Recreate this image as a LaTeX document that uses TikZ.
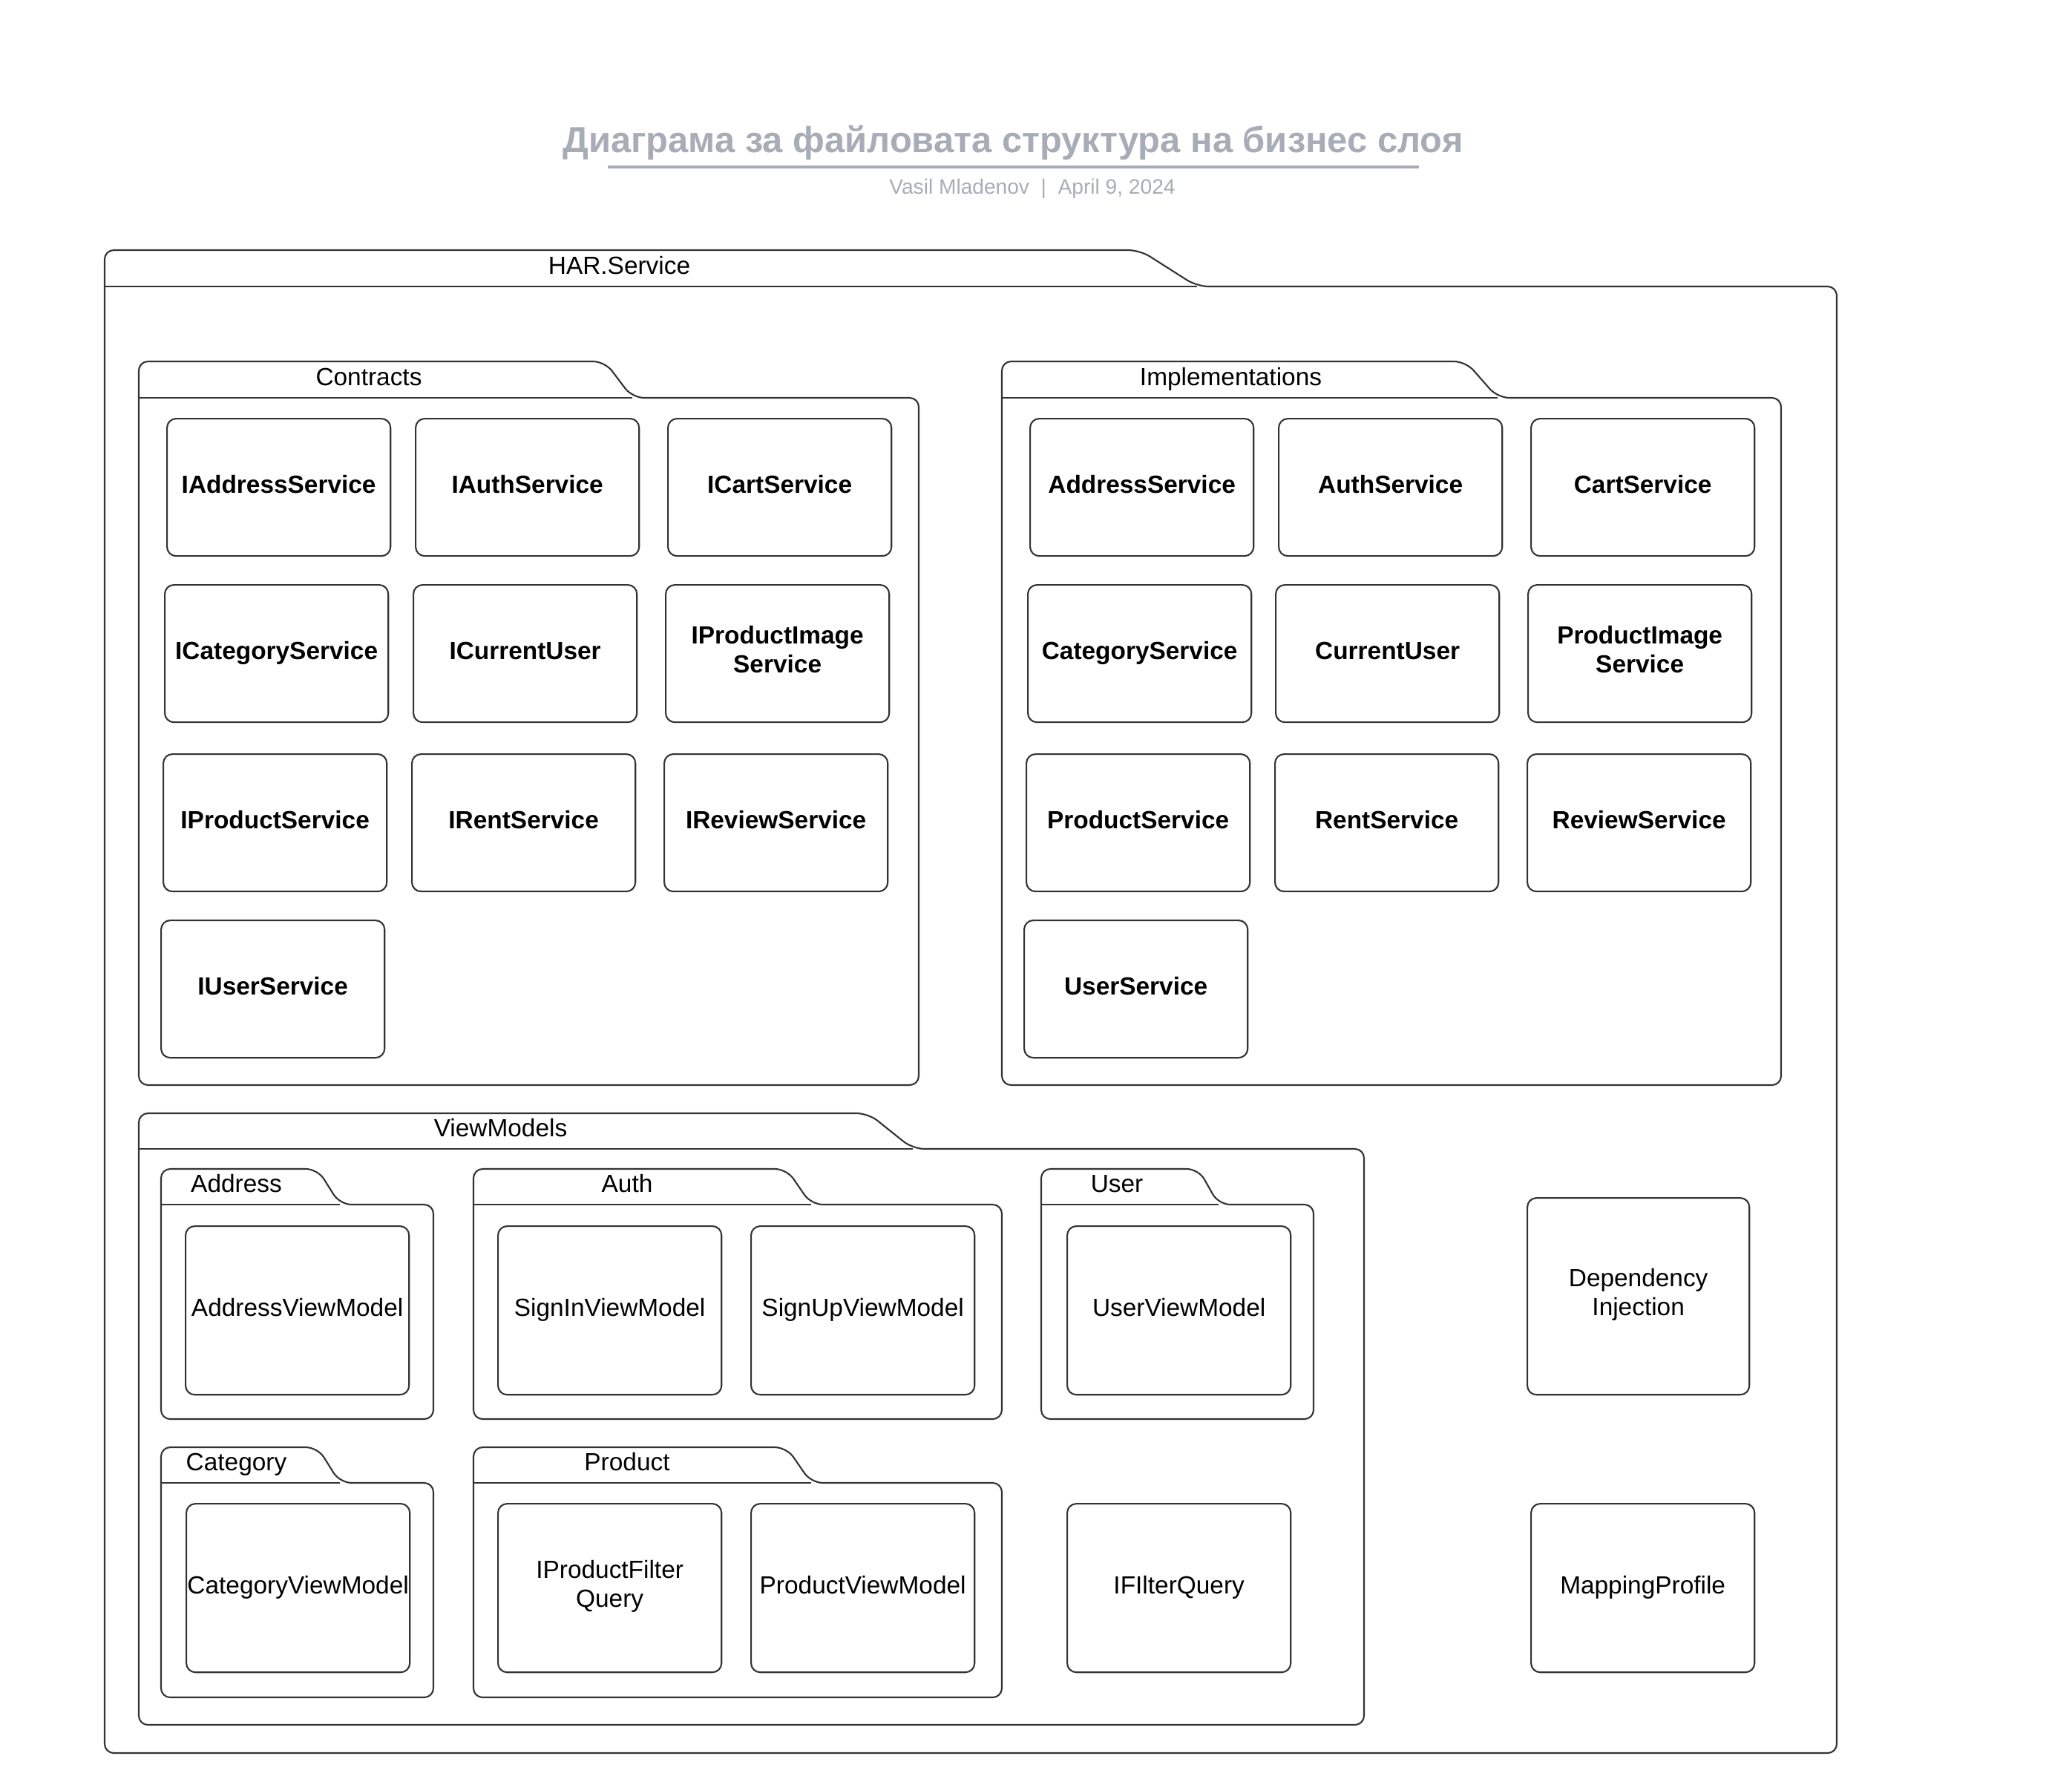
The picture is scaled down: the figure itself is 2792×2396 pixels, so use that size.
\documentclass[tikz,border=0pt]{standalone}
\usepackage{fontspec}
\setmainfont{Liberation Sans}

\definecolor{titlegray}{RGB}{168,172,182}
\definecolor{linegray}{RGB}{51,51,51}

% package (folder) shape: name, label, left, right, tab top, body top, bottom, tab end, tab foot
\newcommand{\umlpkg}[9]{%
  \draw[pkgline] (#3,#6) [rounded corners=3.5pt] -- (#3,#5) [rounded corners=4.5pt] -- (#8,#5) -- (#9,#6) [rounded corners=3.5pt] -- (#4,#6) -- (#4,#7) -- (#3,#7) -- cycle;
  \draw[pkgline] (#3,#6) -- (#9,#6);
  \node[pkglabel] (#1) at ({(#3+#8)/2-4},{(#5+#6)/2}) {#2};
}

\tikzset{
  pkgline/.style={draw=linegray, line width=0.6pt},
  pkglabel/.style={font=\fontsize{9.5}{11.1}\selectfont, inner sep=0pt,
    execute at begin node=\strut},
  svcbox/.style={draw=linegray, line width=0.6pt, rounded corners=3.5pt, anchor=north west,
    minimum width=3.01cm, minimum height=1.85cm, inner sep=0pt, align=center,
    font=\fontsize{9.5}{11.1}\selectfont\bfseries,
    execute at begin node=\strut, execute at end node=\strut},
  vmbox/.style={svcbox, minimum height=2.27cm, font=\fontsize{9.5}{11.1}\selectfont},
  titletext/.style={text=titlegray, font=\fontsize{13.9}{16}\selectfont\bfseries, inner sep=0pt},
  subtitletext/.style={text=titlegray, font=\fontsize{8}{10}\selectfont, inner sep=0pt},
  titleline/.style={draw=titlegray, line width=1.15pt}
}

\begin{document}
\begin{tikzpicture}[x=0.01cm, y=-0.01cm]
    \useasboundingbox (0,0) rectangle (2792,2396);

    % Title
    \node[titletext, anchor=base] (title) at (1365,205) {Диаграма за файловата структура на бизнес слоя};
    \draw[titleline] (819,224.7) -- (1912,224.7);
    \node[subtitletext, anchor=base] (subtitle) at (1391,261.7) {Vasil Mladenov~~|~~April 9, 2024};

    % Packages
    \umlpkg{harservice}{HAR.Service}{141}{2475}{337}{386}{2362}{1536}{1613}
    \umlpkg{contracts}{Contracts}{187}{1238}{487}{536}{1462}{815}{852}
    \umlpkg{implementations}{Implementations}{1350}{2400}{487}{536}{1462}{1975}{2018}
    \umlpkg{viewmodels}{ViewModels}{187}{1838}{1500}{1548}{2324}{1170}{1230}
    \umlpkg{addresspkg}{Address}{217}{584}{1575}{1623}{1912}{428}{458}
    \umlpkg{authpkg}{Auth}{638}{1350}{1575}{1623}{1912}{1060}{1093}
    \umlpkg{userpkg}{User}{1403}{1770}{1575}{1623}{1912}{1615}{1642}
    \umlpkg{categorypkg}{Category}{217}{584}{1950}{1998}{2287}{428}{458}
    \umlpkg{productpkg}{Product}{638}{1350}{1950}{1998}{2287}{1060}{1093}

    % Contracts
    \node[svcbox] (iaddress) at (224,563) {IAddressService};
    \node[svcbox] (iauth) at (559,563) {IAuthService};
    \node[svcbox] (icart) at (899,563) {ICartService};
    \node[svcbox] (icategory) at (221,787) {ICategoryService};
    \node[svcbox] (icurrentuser) at (556,787) {ICurrentUser};
    \node[svcbox] (iproductimage) at (896,787) {IProductImage\\Service};
    \node[svcbox] (iproduct) at (219,1015) {IProductService};
    \node[svcbox] (irent) at (554,1015) {IRentService};
    \node[svcbox] (ireview) at (894,1015) {IReviewService};
    \node[svcbox] (iuser) at (216,1239) {IUserService};

    % Implementations
    \node[svcbox] (address) at (1387,563) {AddressService};
    \node[svcbox] (auth) at (1722,563) {AuthService};
    \node[svcbox] (cart) at (2062,563) {CartService};
    \node[svcbox] (category) at (1384,787) {CategoryService};
    \node[svcbox] (currentuser) at (1718,787) {CurrentUser};
    \node[svcbox] (productimage) at (2058,787) {ProductImage\\Service};
    \node[svcbox] (product) at (1382,1015) {ProductService};
    \node[svcbox] (rent) at (1717,1015) {RentService};
    \node[svcbox] (review) at (2057,1015) {ReviewService};
    \node[svcbox] (user) at (1379,1239) {UserService};

    % ViewModels
    \node[vmbox] (addressvm) at (249,1651) {AddressViewModel};
    \node[vmbox] (signinvm) at (670,1651) {SignInViewModel};
    \node[vmbox] (signupvm) at (1011,1651) {SignUpViewModel};
    \node[vmbox] (uservm) at (1437,1651) {UserViewModel};
    \node[vmbox] (categoryvm) at (250,2025) {CategoryViewModel};
    \node[vmbox] (productfilterq) at (670,2025) {IProductFilter\\Query};
    \node[vmbox] (productvm) at (1011,2025) {ProductViewModel};
    \node[vmbox] (filterq) at (1437,2025) {IFIlterQuery};

    % Loose files
    \node[vmbox, minimum height=2.65cm, minimum width=2.99cm] (depinj) at (2057,1613) {Dependency\\Injection};
    \node[vmbox] (mapping) at (2062,2025) {MappingProfile};
\end{tikzpicture}
\end{document}
